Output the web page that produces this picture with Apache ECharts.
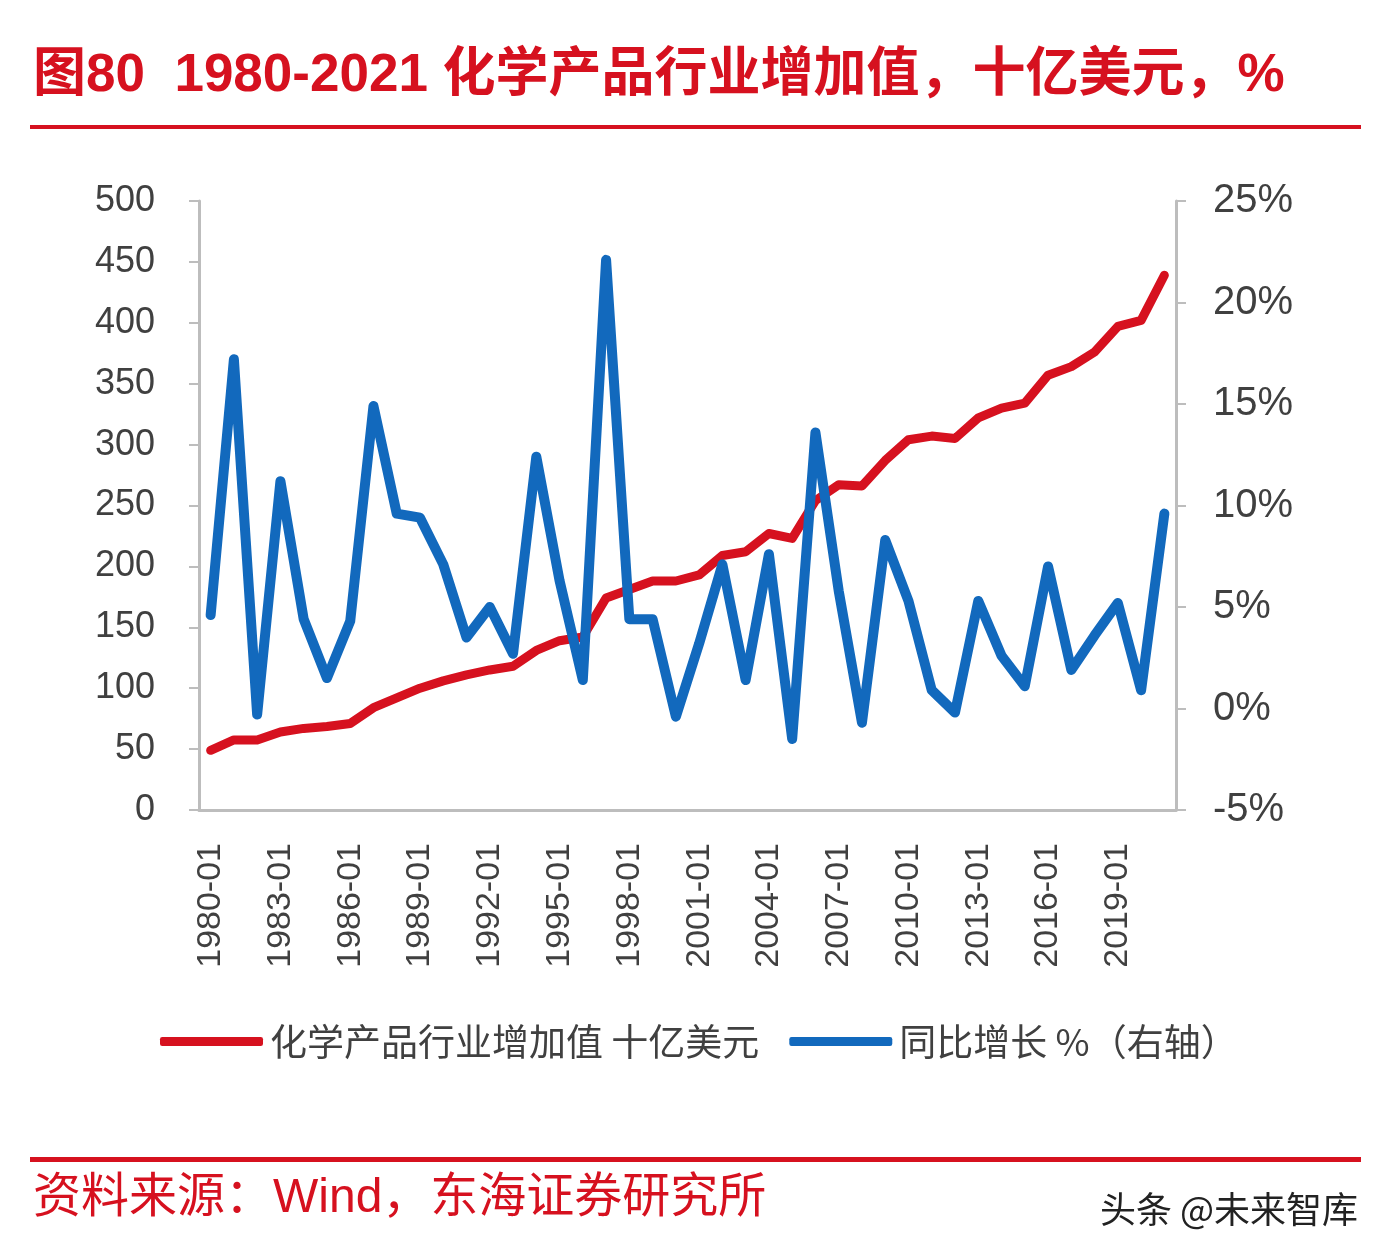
<!DOCTYPE html>
<html>
<head>
<meta charset="utf-8">
<script src="https://cdn.jsdelivr.net/npm/echarts@6/dist/echarts.min.js"></script>
<style>
html,body{margin:0;padding:0;background:#fff;}
#c{width:1384px;height:1256px;}
</style>
</head>
<body>
<div id="c"></div>
<script>
const years = [];
for (let y = 1980; y <= 2021; y++) years.push(y + '-01');

const valueAdded = [49, 57.5, 57.5, 64, 67, 68.5, 71, 84, 92, 100, 106, 111, 115, 118, 131, 139, 142, 174, 181, 188, 188, 193, 209, 212, 227, 223, 254, 267, 266, 287, 304, 307, 305, 322, 330, 334, 357, 364, 376, 397, 402, 439];
const yoyGrowth = [4.6, 17.2, -0.3, 11.2, 4.4, 1.5, 4.3, 14.9, 9.6, 9.4, 7.1, 3.5, 5.0, 2.7, 12.4, 6.3, 1.4, 22.1, 4.4, 4.4, -0.4, 3.2, 7.1, 1.4, 7.6, -1.5, 13.6, 5.8, -0.7, 8.3, 5.3, 0.9, -0.2, 5.3, 2.6, 1.1, 7.0, 1.9, 3.6, 5.2, 0.9, 9.6];

const seriesNames = ['化学产品行业增加值 十亿美元', '同比增长 %（右轴）'];
const titleText = '图80  1980-2021 化学产品行业增加值，十亿美元，%';
const sourceText = '资料来源：Wind，东海证券研究所';
const watermark = '头条 @未来智库';

const RED = '#D6111F';
const BLUE = '#1269BD';
const AXIS = '#BDBDBD';
const LABEL = '#404040';
const FONT = 'Liberation Sans, Arial, "Noto Sans CJK SC", sans-serif';

const chart = echarts.init(document.getElementById('c'), null, {renderer: 'canvas'});
chart.setOption({
  animation: false,
  backgroundColor: '#ffffff',
  textStyle: {fontFamily: FONT},
  grid: {left: 199, right: 208, top: 201, bottom: 446, containLabel: false},
  legend: {
    left: 155, top: 1018,
    itemWidth: 103, itemHeight: 9, itemGap: 30,
    icon: 'roundRect',
    textStyle: {fontSize: 37, color: LABEL, fontFamily: '"Noto Sans CJK SC", sans-serif', padding: [0, 0, 0, 2]},
    data: seriesNames
  },
  xAxis: {
    type: 'category',
    data: years,
    boundaryGap: true,
    axisLine: {lineStyle: {color: AXIS, width: 3}},
    axisTick: {interval: 2, length: 11, lineStyle: {color: AXIS, width: 2}},
    axisLabel: {interval: 2, rotate: 90, fontSize: 34, color: LABEL, margin: 33, fontFamily: FONT},
    splitLine: {show: false}
  },
  yAxis: [
    {
      type: 'value', min: 0, max: 500, interval: 50, position: 'left',
      axisLine: {show: true, lineStyle: {color: AXIS, width: 3}},
      axisTick: {show: true, length: 10, lineStyle: {color: AXIS, width: 2}},
      axisLabel: {fontSize: 36, color: LABEL, margin: 44, fontFamily: FONT},
      splitLine: {show: false}
    },
    {
      type: 'value', min: -5, max: 25, interval: 5, position: 'right',
      axisLine: {show: true, lineStyle: {color: AXIS, width: 3}},
      axisTick: {show: true, length: 10, lineStyle: {color: AXIS, width: 2}},
      axisLabel: {fontSize: 40, color: LABEL, margin: 37, formatter: '{value}%', fontFamily: FONT},
      splitLine: {show: false}
    }
  ],
  series: [
    {
      name: seriesNames[0], type: 'line', yAxisIndex: 0, data: valueAdded,
      symbol: 'none', color: RED,
      lineStyle: {width: 9, color: RED, cap: 'round', join: 'round'}
    },
    {
      name: seriesNames[1], type: 'line', yAxisIndex: 1, data: yoyGrowth,
      symbol: 'none', color: BLUE,
      lineStyle: {width: 10, color: BLUE, cap: 'round', join: 'round'}
    }
  ],
  graphic: [
    {type: 'text', left: 33, top: 50, style: {text: titleText, fill: RED, font: 'bold 53px ' + FONT}},
    {type: 'rect', shape: {x: 30, y: 125, width: 1331, height: 4}, style: {fill: RED}},
    {type: 'rect', shape: {x: 30, y: 1157, width: 1331, height: 5}, style: {fill: RED}},
    {type: 'text', left: 33, top: 1175, style: {text: sourceText, fill: RED, font: '48px ' + FONT}},
    {type: 'text', left: 1100, top: 1191, style: {text: watermark, fill: '#222', font: '36px "Noto Sans CJK SC", sans-serif'}}
  ]
});
</script>
</body>
</html>
